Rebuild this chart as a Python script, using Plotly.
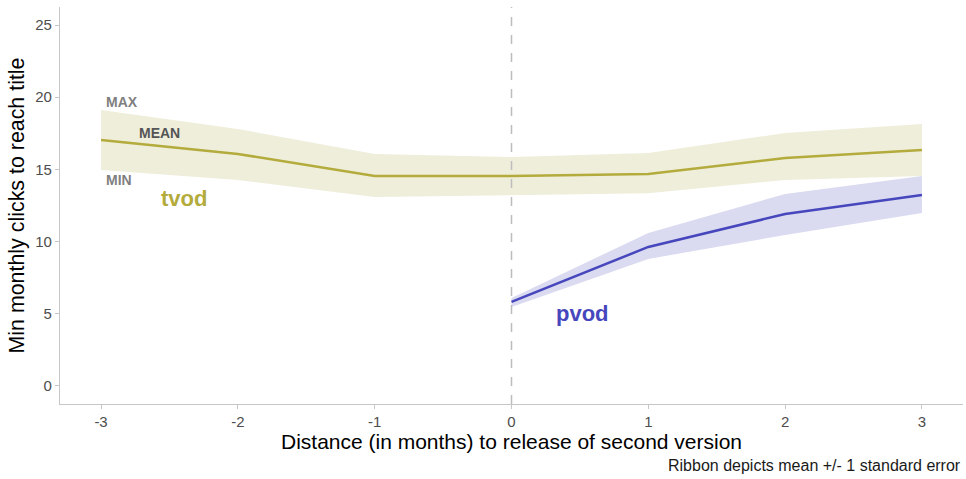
import plotly.graph_objects as go

# Months relative to the release of the second version
months_tvod = [-3, -2, -1, 0, 1, 2, 3]
tvod_mean = [17.03, 16.07, 14.54, 14.54, 14.68, 15.79, 16.34]
tvod_upper = [19.11, 17.80, 16.07, 15.86, 16.14, 17.52, 18.14]
tvod_lower = [14.96, 14.27, 13.09, 13.20, 13.35, 14.27, 14.54]

months_pvod = [0, 1, 2, 3]
pvod_mean = [5.82, 9.63, 11.91, 13.23]
pvod_upper = [6.09, 10.60, 13.30, 14.54]
pvod_lower = [5.47, 8.80, 10.46, 11.98]

x_ticks = [-3, -2, -1, 0, 1, 2, 3]
y_ticks = [0, 5, 10, 15, 20, 25]

TVOD_LINE = "#b3ab3c"
TVOD_FILL = "#efeedb"
PVOD_LINE = "#4747bd"
PVOD_FILL = "#dadaf1"
FONT = "Liberation Sans, Arial, sans-serif"

fig = go.Figure()


def ribbon(x, lo, hi, mean, fill, line):
    fig.add_trace(go.Scatter(x=x, y=lo, mode="lines", line=dict(width=0),
                             hoverinfo="skip", showlegend=False))
    fig.add_trace(go.Scatter(x=x, y=hi, mode="lines", line=dict(width=0),
                             fill="tonexty", fillcolor=fill,
                             hoverinfo="skip", showlegend=False))
    fig.add_trace(go.Scatter(x=x, y=mean, mode="lines",
                             line=dict(color=line, width=2.5),
                             showlegend=False))


ribbon(months_tvod, tvod_lower, tvod_upper, tvod_mean, TVOD_FILL, TVOD_LINE)
ribbon(months_pvod, pvod_lower, pvod_upper, pvod_mean, PVOD_FILL, PVOD_LINE)

# Dashed reference line at the release month
fig.add_shape(type="line", x0=0, x1=0, y0=0, y1=1, xref="x", yref="paper",
              line=dict(color="#bdbdbd", width=1.5, dash="dash"), layer="above")

labels = [
    (-2.98, 19.7, "<b>MAX</b>", "#808080", 14),
    (-2.74, 17.5, "<b>MEAN</b>", "#555555", 14),
    (-2.98, 14.27, "<b>MIN</b>", "#808080", 14),
    (-2.58, 13.0, "<b>tvod</b>", TVOD_LINE, 22),
    (0.31, 5.05, "<b>pvod</b>", PVOD_LINE, 22),
]
for x, y, t, c, s in labels:
    fig.add_annotation(x=x, y=y, text=t, showarrow=False, xanchor="left",
                       yanchor="middle", font=dict(family=FONT, size=s, color=c))

fig.add_annotation(x=1, y=-0.156, xref="paper", yref="paper",
                   text="Ribbon depicts mean +/- 1 standard error",
                   showarrow=False, xanchor="right", yanchor="middle",
                   font=dict(family=FONT, size=16, color="#1a1a1a"))

axis_common = dict(showgrid=False, zeroline=False, showline=True,
                   linecolor="#c6c6c6", linewidth=1.2, ticks="outside",
                   ticklen=4, tickcolor="#c6c6c6",
                   tickfont=dict(family=FONT, size=15, color="#4d4d4d"))

fig.update_layout(
    width=966, height=479,
    margin=dict(l=60, r=3, t=7, b=75),
    plot_bgcolor="white", paper_bgcolor="white",
    xaxis=dict(range=[-3.3, 3.3], tickvals=x_ticks,
               ticktext=[str(v) for v in x_ticks],
               title=dict(text="Distance (in months) to release of second version",
                          font=dict(family=FONT, size=21, color="#000"),
                          standoff=2),
               **axis_common),
    yaxis=dict(range=[-1.25, 26.25], tickvals=y_ticks,
               ticktext=[str(v) for v in y_ticks],
               title=dict(text="Min monthly clicks to reach title",
                          font=dict(family=FONT, size=21.4, color="#000"),
                          standoff=4),
               **axis_common),
)

fig.write_html("out.html")
